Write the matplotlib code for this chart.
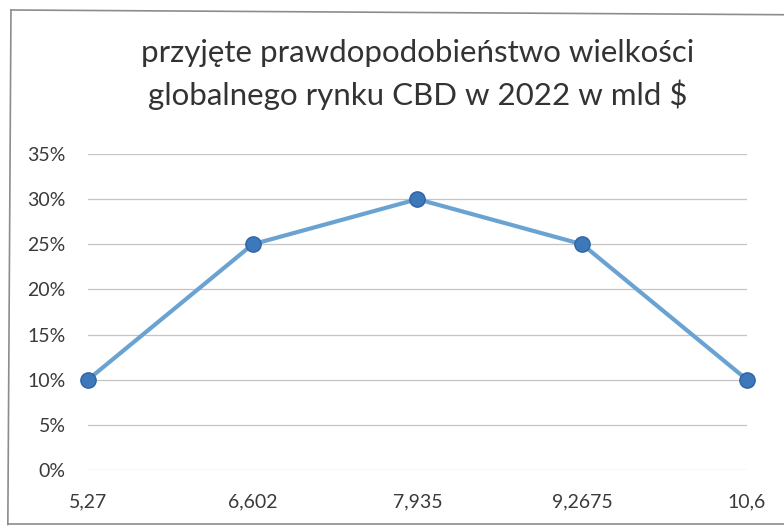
import matplotlib.pyplot as plt
from matplotlib.lines import Line2D
from matplotlib.ticker import PercentFormatter

plt.rcParams["font.family"] = ["Lato", "DejaVu Sans"]

# market size scenarios (bn $) and their assumed probability
sizes = ["5,27", "6,602", "7,935", "9,2675", "10,6"]
probability = [0.10, 0.25, 0.30, 0.25, 0.10]

title = "przyjęte prawdopodobieństwo wielkości\nglobalnego rynku CBD w 2022 w mld $"

fig = plt.figure(figsize=(7.84, 5.26), dpi=100)
ax = fig.add_axes([0.1122, 0.1065, 0.8406, 0.6007])

x = list(range(len(sizes)))
ax.plot(x, probability, color="#6aa3d2", linewidth=3.0,
        marker="o", markersize=11, markerfacecolor="#3d78bb",
        markeredgecolor="#2e62a3", markeredgewidth=1.0, zorder=3,
        clip_on=False)

ax.set_xlim(0, len(sizes) - 1)
ax.set_ylim(0, 0.35)
ax.set_yticks([i * 0.05 for i in range(8)])
ax.yaxis.set_major_formatter(PercentFormatter(1.0, decimals=0))
ax.set_xticks(x)
ax.set_xticklabels(sizes)

ax.grid(axis="y", color="#c4c4c4", linewidth=0.9)
ax.set_axisbelow(True)
for side in ax.spines.values():
    side.set_visible(False)
ax.tick_params(length=0, labelsize=14, labelcolor="#3a3a3a")
ax.tick_params(axis="x", pad=17)
ax.tick_params(axis="y", pad=16)

fig.text(0.533, 0.858, title, ha="center", va="center", fontsize=22.5,
         color="#333333", linespacing=1.5)

# chart frame
frame = dict(color="#8c8c8c", linewidth=1.2, transform=fig.transFigure)
fig.add_artist(Line2D([0.014, 0.010], [0.981, 0.003], **frame))
fig.add_artist(Line2D([0.014, 1.0], [0.981, 0.972], **frame))
fig.add_artist(Line2D([0.010, 1.0], [0.004, 0.004], **frame))

fig.savefig("out.png", dpi=100, facecolor="white")
